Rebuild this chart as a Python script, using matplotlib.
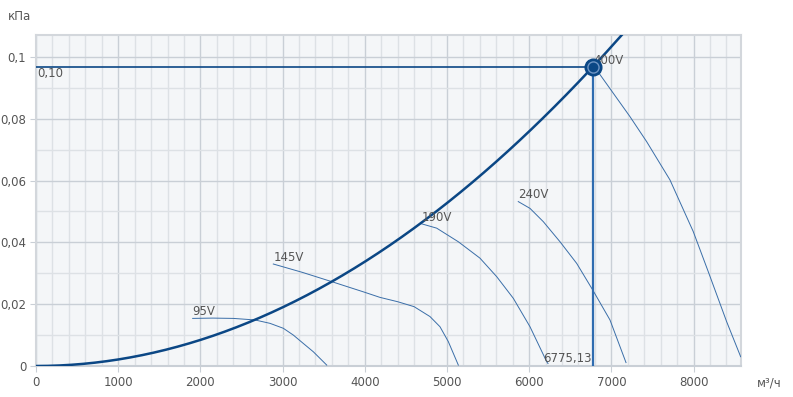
import numpy as np
import matplotlib
matplotlib.use("Agg")
import matplotlib.pyplot as plt
from matplotlib.ticker import MultipleLocator, FuncFormatter

# duty point
q_work = 6775.13
p_work = 0.0968

# fan curves (м³/ч, кПа)
fan_labels = ["95V", "145V", "190V", "240V", "400V"]
fan_q = [
    [1906, 2150, 2400, 2664, 2847, 3009, 3131, 3252, 3374, 3537],
    [2887, 3240, 3597, 3982, 4185, 4400, 4600, 4793, 4915, 5016, 5138],
    [4692, 4875, 5138, 5401, 5605, 5807, 6010, 6213, 6229],
    [5867, 6010, 6172, 6375, 6578, 6773, 6983, 7178],
    [6780, 6821, 7226, 7429, 7713, 7996, 8179, 8403, 8573],
]
fan_p = [
    [0.0154, 0.0155, 0.0154, 0.0149, 0.0138, 0.0122, 0.0100, 0.0073, 0.0046, 0.0003],
    [0.0330, 0.0303, 0.0273, 0.0240, 0.0222, 0.0208, 0.0192, 0.0160, 0.0127, 0.0079, 0.0003],
    [0.0460, 0.0446, 0.0402, 0.0349, 0.0289, 0.0219, 0.0127, 0.0014, 0.0008],
    [0.0532, 0.0510, 0.0467, 0.0402, 0.0332, 0.0246, 0.0149, 0.0011],
    [0.0968, 0.0958, 0.0807, 0.0726, 0.0602, 0.0435, 0.0305, 0.0143, 0.0030],
]

x_max = 8577
y_max = 0.1071

DARK = "#0b4785"
MID = "#3a6ea8"
TXT = "#555555"

plt.rcParams["font.family"] = ["DejaVu Sans"]

fig = plt.figure(figsize=(7.93, 3.97), dpi=100)
ax = fig.add_axes([36 / 793, 1 - 366 / 397, (741 - 36) / 793, (366 - 35) / 397])
ax.set_facecolor("#f4f6f8")
ax.set_xlim(0, x_max)
ax.set_ylim(0, y_max)

ax.xaxis.set_major_locator(MultipleLocator(1000))
ax.xaxis.set_minor_locator(MultipleLocator(200))
ax.yaxis.set_major_locator(MultipleLocator(0.02))
ax.yaxis.set_minor_locator(MultipleLocator(0.01))
ax.grid(which="minor", color="#dde1e5", lw=1.0)
ax.grid(which="major", color="#c9cfd6", lw=1.0)
ax.set_axisbelow(True)
ax.yaxis.set_major_formatter(FuncFormatter(
    lambda v, _: "0" if v == 0 else f"{v:.2f}".rstrip("0").replace(".", ",")))
ax.tick_params(which="major", length=4, color="#c9cfd6", labelcolor=TXT, labelsize=8.5, pad=3)
ax.tick_params(which="minor", length=0)
for s in ax.spines.values():
    s.set_color("#d3d7dc")
    s.set_linewidth(1.5)
ax.spines["bottom"].set_color("#c9cfd6")

# system curve
qs = np.linspace(0, x_max, 300)
ax.plot(qs, p_work * (qs / q_work) ** 2, color=DARK, lw=1.8, zorder=4)

# fan curves
for lab, q, p in zip(fan_labels, fan_q, fan_p):
    ax.plot(q, p, color=MID, lw=0.7, zorder=3)
    ax.text(q[0], p[0] + 0.0001, lab, color=TXT, fontsize=8.5, ha="left", va="bottom", zorder=6)

# duty point lines
ax.plot([0, q_work], [p_work, p_work], color=DARK, lw=1.2, zorder=4)
ax.plot([q_work, q_work], [0, p_work], color="#2f6cb0", lw=1.6, zorder=4)
ax.plot(q_work, p_work, "o", ms=12, mfc=DARK, mec=DARK, zorder=7)
ax.plot(q_work, p_work, "o", ms=8, mfc="none", mec="#6f95c4", mew=1.0, zorder=8)
ax.text(20, p_work - 0.0002, "0,10", color=TXT, fontsize=8.5, ha="left", va="top", zorder=6)
ax.text(q_work - 20, 0.0003, "6775,13", color=TXT, fontsize=8.5, ha="right", va="bottom", zorder=6)

fig.text(8 / 793, 1 - 16 / 397, "кПа", color=TXT, fontsize=8.5, ha="left", va="center")
fig.text(757 / 793, 1 - 383 / 397, "м³/ч", color=TXT, fontsize=8.5, ha="left", va="center")

fig.savefig("out.png", dpi=100)
